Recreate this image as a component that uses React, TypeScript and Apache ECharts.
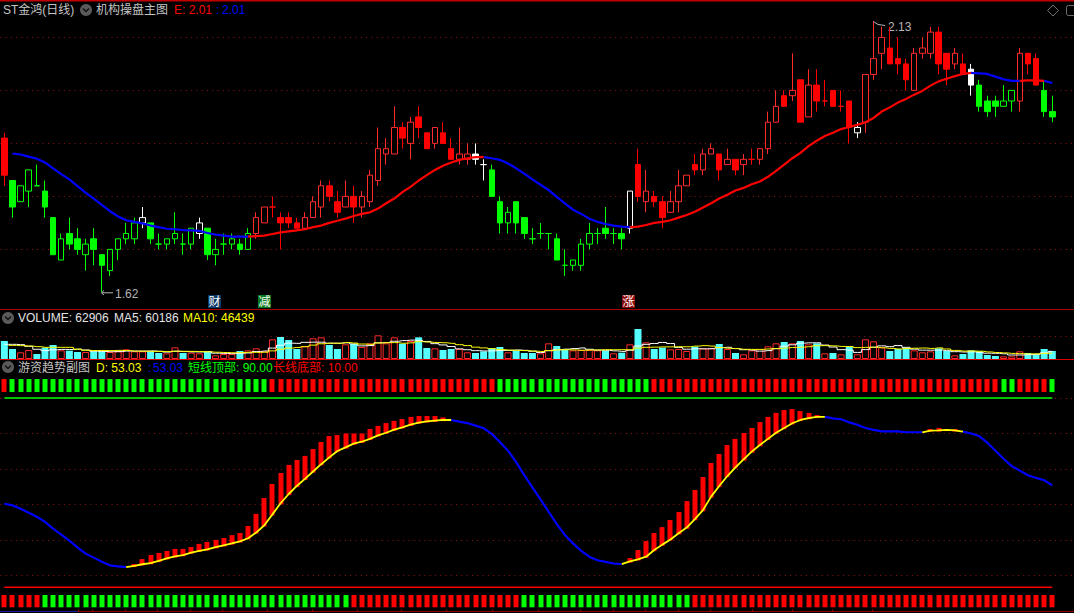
import React, { useEffect, useRef } from "react";
import * as echarts from "echarts";

const WIDTH = 1074;
const HEIGHT = 613;

// Prices are in fen (0.01 yuan), the unit in which this stock moves.
const opens = [
  191,183,179,181,182,181,176,168,173,172,
  169,172,169,166,170,172,172,175,175,171,
  171,172,171,171,173,174,169,171,171,171,
  170,173,175,178,176,176,175,174,176,178,
  182,179,178,180,178,179,183,188,188,193,
  190,195,192,190,192,189,187,187,188,186,
  185,179,175,179,176,172,173,173,172,167,
  167,167,171,173,174,173,173,174,186,179,
  180,179,177,179,182,186,185,188,188,186,
  187,186,187,187,189,194,199,199,202,195,
  201,198,200,197,198,192,194,203,207,208,
  206,205,200,207,207,211,207,205,205,204,
  201,198,198,197,198,198,207,206,200,196,
];
const closes = [
  184,178,182,185,182,178,169,172,171,170,
  171,170,167,170,172,173,175,176,172,171,
  172,173,171,174,175,169,170,171,172,170,
  173,176,178,178,175,175,174,176,179,182,
  180,177,180,178,180,184,189,189,193,191,
  194,193,189,193,190,187,188,188,187,186,
  180,175,177,175,173,172,173,173,168,167,
  168,171,173,173,173,173,172,181,180,181,
  179,176,179,182,184,185,188,189,185,187,
  185,187,187,189,194,197,197,200,194,201,
  198,198,197,197,193,193,203,206,210,205,
  205,202,207,208,211,205,204,207,203,201,
  197,196,197,198,200,207,205,201,196,195,
];
const lows = [
  182,176,179,178,182,176,169,168,170,169,
  166,167,162,165,168,171,171,174,171,170,
  170,171,169,170,172,168,167,169,170,169,
  170,172,175,176,170,174,174,174,176,176,
  179,176,178,175,176,178,182,186,188,189,
  187,191,189,189,190,187,186,186,186,183,
  180,173,173,173,172,171,172,170,168,165,
  166,166,170,171,172,171,170,173,179,177,
  178,174,177,177,182,184,184,188,183,186,
  184,184,186,186,188,194,197,198,194,195,
  196,197,197,196,190,191,192,202,204,205,
  203,200,200,206,206,203,201,204,203,199,
  196,195,195,197,196,196,203,201,195,194,
];
const highs = [
  192,183,182,185,186,183,176,173,176,174,
  172,174,169,170,172,175,176,178,175,173,
  172,177,173,174,176,174,172,173,173,172,
  174,177,178,180,177,177,176,177,180,183,
  183,181,183,182,181,185,193,191,197,194,
  195,197,192,193,194,191,193,190,190,187,
  186,180,178,179,176,174,175,173,173,170,
  168,172,175,174,178,174,174,181,189,185,
  181,180,181,185,184,188,189,190,188,189,
  187,188,189,189,196,200,200,207,202,204,
  204,202,200,200,198,194,203,213,212,212,
  210,206,208,210,212,212,207,208,207,205,
  202,199,199,201,200,208,207,207,202,199,
];
const whiteCandles = [17, 24, 58, 59, 77, 105, 119];
const greenCandleRanges = [[1, 30], [60, 76], [120, 124], [128, 129]];

const lineE = [
  null,188.1,187.9,187.5,187.1,186.4,185.3,184.2,183.2,181.95,
  180.7,179.6,178.4,177.2,176.2,175.5,175.2,174.9,174.5,174.2,
  173.9,173.8,173.65,173.6,173.5,173.1,172.8,172.6,172.4,172.4,
  172.4,172.5,172.6,172.9,173.2,173.4,173.6,173.8,174.2,174.5,
  175,175.4,175.8,176.3,176.7,177,177.7,178.7,179.6,180.8,
  181.8,183,184,185,185.8,186.4,186.9,187.2,187.4,187.4,
  187.2,186.9,186.2,185.3,184.3,183.2,182.2,181.2,179.9,178.7,
  177.5,176.7,175.8,175.2,174.8,174.5,174.3,174.2,174.3,174.6,
  175,175.2,175.5,176,176.5,177.1,177.9,178.7,179.6,180.3,
  181.1,181.6,182.3,182.8,183.7,184.8,186,187.2,188.2,189.5,
  190.5,191.4,192,192.7,193.1,193.5,194,194.8,196,196.8,
  197.7,198.4,199.2,199.9,200.9,201.7,202.2,202.7,203.1,203.3,
  203.2,203.1,202.6,202.1,201.8,201.8,201.9,201.9,201.8,201.4,
];
const eRiseRanges = [[30, 59], [77, 119], [125, 128]];

// Volume bars and their averages, read in steps of 1/3 px; one step is about 2621 lots.
const VOLUME_STEP = 2621;
const volumeSteps = [
  54,30,20,27,15,34,42,26,25,21,
  21,23,23,21,23,29,23,23,23,18,
  17,35,18,19,17,22,11,15,15,24,
  26,32,23,59,66,57,30,38,62,65,
  42,30,44,45,36,47,71,47,65,46,
  54,65,33,32,27,30,30,20,18,23,
  32,36,20,24,18,18,17,47,39,27,
  26,27,27,26,25,17,19,44,90,50,
  30,34,29,30,24,37,32,32,45,30,
  18,14,26,30,38,47,51,47,54,44,
  47,17,18,14,36,14,59,53,35,24,
  30,33,26,20,23,32,24,11,15,26,
  23,12,9,8,8,23,18,13,30,24,
];
const ma5Steps = [
  44,44,43,38,29.2,25.2,27.6,28.8,28.4,29.6,
  27,23.2,22.6,21.8,22.2,23.8,23.8,23.8,24.2,23.2,
  20.8,23.2,22.2,21.4,21.2,22.2,17.4,16.8,16,17.4,
  18.2,22.4,24,32.8,41.2,47.4,47,50,50.6,50.4,
  47.4,47.4,48.6,45.2,39.4,40.4,48.6,49.2,53.2,55.2,
  56.6,55.4,52.6,46,42.2,37.4,30.4,27.8,25,24.2,
  24.6,25.8,25.8,27,26,23.2,19.4,24.8,27.8,29.6,
  31.2,33.2,29.2,26.6,26.2,24.4,22.8,26.2,39,44,
  46.6,49.6,46.6,34.6,29.4,30.8,30.4,31,34,35.2,
  31.4,27.8,26.6,23.6,25.2,31,38.4,42.6,47.4,48.6,
  48.6,41.8,36,28,26.4,19.8,28.2,35.2,39.4,37,
  40.2,35,29.6,26.6,26.4,26.8,25,22,21,21.6,
  19.8,17.4,17,15.6,12,12,13.2,14,18.4,23,
];
const ma10Steps = [
  null,41,40,39,37,35,35,35,35,29.4,
  26.1,25.4,25.7,25.1,25.9,25.4,23.5,23.2,23,22.7,
  22.3,23.5,23,22.8,22.2,21.5,20.3,19.5,18.7,19.3,
  20.2,19.9,20.4,24.4,29.3,32.8,34.7,37,41.7,45.8,
  47.4,47.2,49.3,47.9,44.9,43.9,48,48.9,49.2,47.3,
  48.5,52,50.9,49.6,48.7,47,42.9,40.2,35.5,33.2,
  31,28.1,26.8,26,25.1,23.9,22.6,25.3,27.4,27.8,
  27.2,26.3,27,27.2,27.9,27.8,28,27.7,32.8,35.1,
  35.5,36.2,36.4,36.8,36.7,38.7,40,38.8,34.3,32.3,
  31.1,29.1,28.8,28.8,30.2,31.2,33.1,34.6,35.5,36.9,
  39.8,40.1,39.3,37.7,37.5,34.2,35,35.6,33.7,31.7,
  30,31.6,32.4,33,31.7,33.5,30,25.8,23.8,24,
  23.3,21.2,19.5,18.3,16.8,15.9,15.3,15.5,17,17.7,
];

const lineD = [
  45.3,44.6,43.2,41.5,39.8,37.6,34.75,32.2,29.7,26.85,
  24.2,22.5,20.8,19.25,18.8,18.5,19,19.7,20.2,21.1,
  22.2,23,23.6,24.6,25.4,26,26.9,27.7,28.5,29.4,
  30.7,33.1,36.2,40.8,45.5,49.4,52.8,55.8,58.9,62,
  64.9,67.6,69.1,70.7,71.5,72.7,74.2,75.3,76.6,77.6,
  78.7,79.6,80.1,80.4,80.7,80.7,80,79.4,78.3,77.2,
  74.8,71.4,67.7,62.9,57.4,52.2,47.15,41.9,36.7,32.1,
  28.5,25.4,22.9,21.4,20.7,20,19.8,20.9,21.8,22.9,
  25.7,28,30.2,32.8,35.2,38.8,42.6,48.3,52.8,57,
  60.7,64,67.3,70.1,72.7,75.3,77.3,79.3,80.7,81.5,
  82,82,81.4,81,79.7,78.7,77.3,76.5,75.9,75.9,
  75.9,75.5,75.5,75.5,76.2,76.3,76.5,76.3,75.8,75,
  73.9,71.1,67.7,64.3,61.2,59.3,57.3,56.2,55.2,53.03,
];
const dRiseRanges = [[15, 55], [76, 101], [113, 118]];
const dBarRuns = [
  { start: 16, tops: [19.8,21.9,23.6,24.5,25.3,26.2,26.2,27,28.3,29.1,30,30.8,32,32.9,35.9,41,47.7,53.6,58.3,61.7,63.8,65.5,68.4,71.4,73.9,74.3,75,75,75,76.9,78.2,79.4,80.3,81.1,82,82.4,82.4,82.4,81.8] },
  { start: 77, tops: [22.3,25.7,29.5,32.9,35.4,38.4,41.8,46.4,51.1,56.6,62.5,66.3,70.1,72.7,75.2,77.3,79.8,82,83.7,84.9,85.3,84.5,83.7,82.8] },
  { start: 114, tops: [76.9,77.3,76.8,76.9] },
];
const topLevel = 90;
const bottomLevel = 10;
const topStripRedRanges = [[0, 0], [33, 60], [80, 122], [125, 128]];
const bottomStripRedRanges = [[0, 4], [43, 63], [85, 129]];
const topStripBand = [92.5, 98];
const bottomStripBand = [1.5, 6.7];

const monthTicks = [78, 92, 125, 157, 190, 222, 267, 312, 357, 401, 446, 492, 538, 580, 613, 645, 678, 710, 752, 792, 832, 872];

const RED = "#ff0000";
const HOLLOW_RED = "#ff2a2a";
const GREEN = "#00ff00";
const BLUE = "#0000ff";
const CYAN = "#55ffff";
const YELLOW = "#ffff00";
const GRID = "#8c1414";
const FONT = '12px "Liberation Sans", "Noto Sans CJK SC", sans-serif';

const inRanges = (i: number, ranges: number[][]) => ranges.some(([a, b]) => i >= a && i <= b);
const riseSide = (vals: (number | null)[], ranges: number[][]) =>
  vals.map((v, i) => (inRanges(i, ranges) ? v : null));
const fallSide = (vals: (number | null)[], ranges: number[][]) =>
  vals.map((v, i) => (ranges.some(([a, b]) => i > a && i < b) ? null : v));

const categories = Array.from({ length: 132 }, (_, i) => String(i));

function toneOf(i: number) {
  if (whiteCandles.includes(i)) return "#ffffff";
  return inRanges(i, greenCandleRanges) ? GREEN : RED;
}

const candleData = opens.map((o, i) => {
  const c = closes[i];
  const tone = toneOf(i);
  const hollow = c > o;
  const fill = hollow ? "#000000" : tone;
  const stroke = tone === RED && hollow ? HOLLOW_RED : tone;
  return {
    value: [o, c, lows[i], highs[i]],
    itemStyle: {
      color: fill,
      color0: fill,
      colorDoji: fill,
      borderColor: stroke,
      borderColor0: stroke,
      borderColorDoji: stroke,
      borderWidth: 1,
    },
  };
});

const isUpDay = (i: number) => {
  if (closes[i] !== opens[i]) return closes[i] > opens[i];
  return i > 0 && closes[i] >= closes[i - 1];
};
const volumeData = volumeSteps.map((s, i) => ({
  value: s * VOLUME_STEP,
  itemStyle: isUpDay(i)
    ? { color: "#000000", borderColor: HOLLOW_RED, borderWidth: 1 }
    : { color: CYAN, borderWidth: 0 },
}));
const toLots = (a: (number | null)[]) => a.map((v) => (v === null ? null : v * VOLUME_STEP));

const BAR_OVERLAP = 0.5;
const dBarData = dBarRuns.flatMap((run) => run.tops.map((top, k) => [run.start + k, lineD[run.start + k] - BAR_OVERLAP, top]));
const stripData = (ranges: number[][], band: number[]) => lineD.map((_, i) => [i, band[0], band[1], inRanges(i, ranges) ? 1 : 0]);

function bandRect(params: any, api: any) {
  const x = api.value(0);
  const a = api.coord([x, api.value(1)]);
  const b = api.coord([x, api.value(2)]);
  const flag = api.value(3);
  return {
    type: "rect",
    shape: { x: Math.round(a[0]) - 2.5, y: b[1], width: 5, height: a[1] - b[1] },
    style: { fill: flag === 0 ? GREEN : RED },
  };
}

function label(text: string, x: number, y: number, fill: string, extra: any = {}) {
  return {
    type: "text",
    silent: true,
    style: { text, x, y, fill, font: FONT, align: "left", verticalAlign: "middle", ...extra },
  };
}
function rule(y: number, stroke: string, lineWidth = 1, x1 = 0, x2 = WIDTH) {
  return { type: "line", silent: true, shape: { x1, y1: y, x2, y2: y }, style: { stroke, lineWidth } };
}
function chevronIcon(cx: number, cy: number) {
  return [
    { type: "circle", silent: true, shape: { cx, cy, r: 6 }, style: { fill: "#5a5a5a" } },
    {
      type: "polyline",
      silent: true,
      shape: { points: [[cx - 3, cy - 1.5], [cx, cy + 1.5], [cx + 3, cy - 1.5]] },
      style: { stroke: "#111111", fill: "none", lineWidth: 1.4 },
    },
  ];
}
function eventTag(text: string, x: number, fill: string) {
  return [
    { type: "rect", silent: true, shape: { x, y: 295, width: 13, height: 13 }, style: { fill } },
    label(text, x + 0.5, 301.8, "#ffffff"),
  ];
}

const GRAY = "#c4c4c4";
const graphics: any[] = [
  rule(0.7, "#c00000", 1.4),
  rule(309.5, "#a80000"),
  rule(359.5, "#e00000"),
  rule(611.5, "#8c0000"),
  rule(611.5, "#1c1c9c", 1, 0, 78),
  ...monthTicks.map((x) => ({ type: "line", silent: true, shape: { x1: x + 0.5, y1: 609.5, x2: x + 0.5, y2: 612 }, style: { stroke: "#a00000", lineWidth: 1 } })),

  label("ST金鸿(日线)", 3, 10, GRAY),
  ...chevronIcon(86, 10),
  label("机构操盘主图", 96, 10, GRAY),
  label("E: 2.01", 174, 10, RED),
  label(":", 216, 10, BLUE),
  label("2.01", 222, 10, BLUE),
  { type: "polygon", silent: true, shape: { points: [[1053, 5], [1058.5, 10.5], [1053, 16], [1047.5, 10.5]] }, style: { stroke: "#707070", fill: "none", lineWidth: 1 } },
  { type: "rect", silent: true, shape: { x: 1066.5, y: 5.5, width: 12, height: 10, r: 2 }, style: { stroke: "#707070", fill: "none", lineWidth: 1 } },

  { type: "polyline", silent: true, shape: { points: [[873.5, 24], [873.5, 21.5], [878, 24.5], [885, 25.5]] }, style: { stroke: "#b4b4b4", fill: "none", lineWidth: 1 } },
  label("2.13", 888, 26.5, "#b4b4b4"),
  { type: "polyline", silent: true, shape: { points: [[104, 290.5], [101.5, 292.8], [113, 292.8]] }, style: { stroke: "#b4b4b4", fill: "none", lineWidth: 1 } },
  { type: "line", silent: true, shape: { x1: 101.5, y1: 292.8, x2: 104, y2: 295 }, style: { stroke: "#b4b4b4", lineWidth: 1 } },
  label("1.62", 115, 293.5, "#b4b4b4"),

  ...eventTag("财", 208, "#0c3a68"),
  ...eventTag("减", 258, "#0a7a1e"),
  ...eventTag("涨", 622, "#8a0a0a"),

  ...chevronIcon(8, 318),
  label("VOLUME: 62906", 18, 317.5, "#e4e4e4"),
  label("MA5: 60186", 114, 317.5, "#e4e4e4"),
  label("MA10: 46439", 183, 317.5, YELLOW),

  ...chevronIcon(8, 367),
  label("游资趋势副图", 18, 367.5, GRAY),
  label("D: 53.03", 96, 367.5, YELLOW),
  label(":", 148, 367.5, BLUE),
  label("53.03", 153, 367.5, BLUE),
  label("短线顶部: 90.00", 188, 367.5, GREEN),
  label("长线底部: 10.00", 273, 367.5, RED),
];

function hiddenX(gridIndex: number) {
  return { type: "category", gridIndex, data: categories, show: false, boundaryGap: true };
}
function dottedY(gridIndex: number, min: number, max: number, interval: number) {
  return {
    type: "value",
    gridIndex,
    min,
    max,
    interval,
    axisLine: { show: false },
    axisTick: { show: false },
    axisLabel: { show: false },
    splitLine: {
      show: true,
      showMinLine: false,
      showMaxLine: false,
      lineStyle: { color: GRID, width: 1, type: [1, 4.3] },
    },
  };
}
function plainLine(name: string, data: any[], color: string, width: number, axis: number, extra: any = {}) {
  return {
    name,
    type: "line",
    xAxisIndex: axis,
    yAxisIndex: axis,
    data,
    showSymbol: false,
    silent: true,
    lineStyle: { color, width },
    ...extra,
  };
}
function bandSeries(name: string, data: number[][]) {
  return {
    name,
    type: "custom",
    xAxisIndex: 2,
    yAxisIndex: 2,
    data,
    silent: true,
    encode: { x: 0, y: [1, 2] },
    renderItem: bandRect,
  };
}

export default function App() {
  const ref = useRef<HTMLDivElement>(null);
  useEffect(() => {
    if (!ref.current) return;
    const chart = echarts.init(ref.current, undefined, { renderer: "svg", width: WIDTH, height: HEIGHT });
    chart.setOption({
      animation: false,
      backgroundColor: "#000000",
      grid: [
        { left: 0.3, width: 1072.3, top: 10.9, height: 291.5 },
        { left: 0.3, width: 1072.3, top: 313.67, height: 45.33 },
        { left: 0.3, width: 1072.3, top: 362.5, height: 248.35 },
      ],
      xAxis: [hiddenX(0), hiddenX(1), hiddenX(2)],
      yAxis: [
        dottedY(0, 160, 215, 10),
        dottedY(1, 0, 68 * 2 * VOLUME_STEP, 68 * VOLUME_STEP),
        dottedY(2, 0, 105, 15),
      ],
      series: [
        {
          name: "K",
          type: "candlestick",
          xAxisIndex: 0,
          yAxisIndex: 0,
          barWidth: 6,
          data: candleData,
          silent: true,
        },
        plainLine("E fall", fallSide(lineE, eRiseRanges), BLUE, 2.2, 0),
        plainLine("E rise", riseSide(lineE, eRiseRanges), RED, 2.2, 0),

        {
          name: "VOLUME",
          type: "bar",
          xAxisIndex: 1,
          yAxisIndex: 1,
          barWidth: 7,
          data: volumeData,
          silent: true,
        },
        plainLine("MA5", toLots(ma5Steps), "#ffffff", 1, 1, { step: "middle" }),
        plainLine("MA10", toLots(ma10Steps), YELLOW, 1, 1, { step: "middle" }),

        plainLine("短线顶部", lineD.map(() => topLevel), GREEN, 1.6, 2),
        plainLine("长线底部", lineD.map(() => bottomLevel), RED, 1.6, 2),
        plainLine("D fall", fallSide(lineD, dRiseRanges), BLUE, 2.2, 2),
        plainLine("D rise", riseSide(lineD, dRiseRanges), YELLOW, 1.8, 2),
        bandSeries("D bars", dBarData as number[][]),
        bandSeries("top strip", stripData(topStripRedRanges, topStripBand)),
        bandSeries("bottom strip", stripData(bottomStripRedRanges, bottomStripBand)),
      ],
      graphic: graphics,
    });
    return () => chart.dispose();
  }, []);
  return <div ref={ref} style={{ position: "fixed", left: 0, top: 0, width: WIDTH, height: HEIGHT, background: "#000" }} />;
}
